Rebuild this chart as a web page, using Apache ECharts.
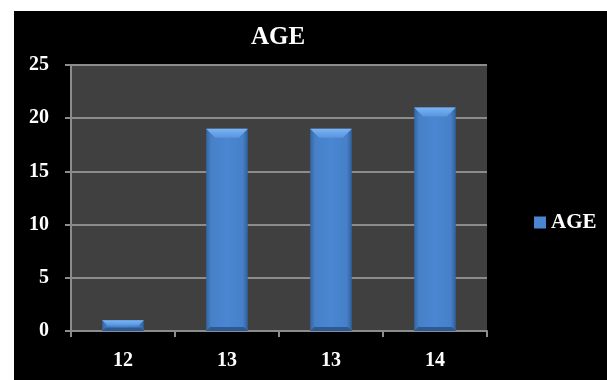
<!DOCTYPE html>
<html>
<head>
<meta charset="utf-8">
<script src="https://cdn.jsdelivr.net/npm/echarts@6/dist/echarts.min.js"></script>
<style>
html,body{margin:0;padding:0;background:#fff;}
#c{width:607px;height:380px;}
</style>
</head>
<body>
<div id="c"></div>
<script>
var categories = ['12', '13', '13', '14'];
var ageValues = [1, 19, 19, 21];
var seriesName = 'AGE';
var titleText = 'AGE';

var FONT = 'Liberation Serif';
var chart = echarts.init(document.getElementById('c'));

function renderBar(params, api) {
  var idx = api.value(0);
  var val = api.value(1);
  var top = api.coord([idx, val]);
  var base = api.coord([idx, 0]);
  var w = api.size([1, 0])[0] * 0.4;
  var x0 = top[0] - w / 2, x1 = top[0] + w / 2;
  var y0 = top[1], y1 = base[1];
  var h = y1 - y0;
  var b = Math.min(9, h / 2);
  var b2 = Math.min(4, h / 3);
  return {
    type: 'group',
    children: [
      {
        type: 'rect',
        shape: {x: x0, y: y0, width: w, height: h},
        style: {
          fill: new echarts.graphic.LinearGradient(0, 0, 1, 0, [
            {offset: 0, color: '#35679f'},
            {offset: 0.12, color: '#4680c8'},
            {offset: 0.5, color: '#4a86d2'},
            {offset: 0.88, color: '#4680c8'},
            {offset: 1, color: '#30609a'}
          ])
        }
      },
      {
        type: 'polygon',
        shape: {points: [[x0, y0], [x1, y0], [x1 - b, y0 + b], [x0 + b, y0 + b]]},
        style: {
          fill: new echarts.graphic.LinearGradient(0, 0, 0, 1, [
            {offset: 0, color: '#7ab4f4'},
            {offset: 1, color: '#5894de'}
          ])
        }
      },
      {
        type: 'polygon',
        shape: {points: [[x0, y1], [x1, y1], [x1 - b2, y1 - b2], [x0 + b2, y1 - b2]]},
        style: {fill: '#2d5a94'}
      }
    ]
  };
}

var option = {
  backgroundColor: '#ffffff',
  animation: false,
  graphic: [{
    type: 'rect',
    z: -10,
    shape: {x: 14, y: 11, width: 593, height: 369},
    style: {fill: '#000000'}
  }],
  title: {
    text: titleText,
    left: 273,
    top: 20,
    textAlign: 'center',
    textStyle: {color: '#ffffff', fontFamily: FONT, fontWeight: 'bold', fontSize: 25}
  },
  legend: {
    data: [{name: seriesName, icon: 'rect'}],
    left: 529,
    top: 207,
    itemWidth: 12,
    itemHeight: 12,
    itemGap: 6,
    textStyle: {color: '#ffffff', fontFamily: FONT, fontWeight: 'bold', fontSize: 21}
  },
  grid: {
    left: 71, right: 120, top: 65, bottom: 49,
    show: true,
    backgroundColor: '#404040',
    borderWidth: 0
  },
  xAxis: {
    type: 'category',
    data: categories,
    axisLine: {show: true, lineStyle: {color: '#8c8c8c', width: 2}},
    axisTick: {show: true, length: 6, alignWithLabel: false, lineStyle: {color: '#8c8c8c', width: 2}},
    axisLabel: {color: '#ffffff', fontFamily: FONT, fontWeight: 'bold', fontSize: 20, margin: 20},
    splitLine: {show: false}
  },
  yAxis: {
    type: 'value',
    min: 0, max: 25, interval: 5,
    axisLine: {show: true, lineStyle: {color: '#8c8c8c', width: 2}},
    axisTick: {show: true, length: 6, lineStyle: {color: '#8c8c8c', width: 2}},
    axisLabel: {color: '#ffffff', fontFamily: FONT, fontWeight: 'bold', fontSize: 20, margin: 22},
    splitLine: {show: true, lineStyle: {color: '#8c8c8c', width: 2}}
  },
  series: [{
    name: seriesName,
    type: 'custom',
    renderItem: renderBar,
    itemStyle: {color: '#4a86d2'},
    encode: {x: 0, y: 1},
    data: ageValues.map(function (v, i) { return [i, v]; }),
    z: 3
  }]
};
chart.setOption(option);
</script>
</body>
</html>
